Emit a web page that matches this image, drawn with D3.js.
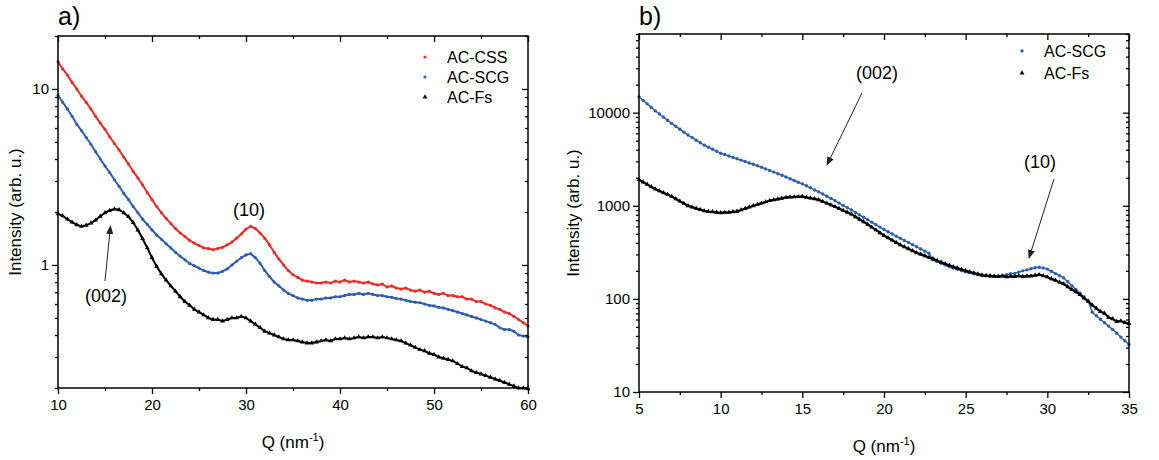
<!DOCTYPE html>
<html><head><meta charset="utf-8">
<script src="https://cdn.jsdelivr.net/npm/d3@7"></script>
<style>
body{margin:0;background:#fff}
svg{display:block}
text{font-family:"Liberation Sans",Arial,sans-serif;fill:#000}
</style>
</head><body>
<svg id="c" width="1159" height="460"></svg>
<script>
// ---------- Panel a data ----------
const qA = [10,10.5,11,11.5,12,12.5,13,13.5,14,14.5,
 15,15.5,16,16.5,17,17.5,18,18.5,19,19.5,
 20,20.5,21,21.5,22,22.5,23,23.5,24,24.5,
 25,25.5,26,26.5,27,27.5,28,28.5,29,29.5,
 30,30.5,31,31.5,32,32.5,33,33.5,34,34.5,
 35,35.5,36,36.5,37,37.5,38,38.5,39,39.5,
 40,40.5,41,41.5,42,42.5,43,43.5,44,44.5,
 45,45.5,46,46.5,47,47.5,48,48.5,49,49.5,
 50,50.5,51,51.5,52,52.5,53,53.5,54,54.5,
 55,55.5,56,56.5,57,57.5,58,58.5,59,59.5,
 60];
const cssA = [14.3,13.0,12.0,10.9,10.0,9.1,8.4,7.7,7.0,6.4,
 5.9,5.35,4.9,4.5,4.1,3.75,3.4,3.12,2.85,2.58,
 2.35,2.15,1.98,1.84,1.72,1.61,1.52,1.45,1.38,1.33,
 1.29,1.25,1.24,1.22,1.24,1.26,1.30,1.35,1.42,1.50,
 1.60,1.66,1.61,1.52,1.42,1.30,1.18,1.08,1.00,0.93,
 0.88,0.85,0.82,0.81,0.80,0.79,0.79,0.80,0.79,0.81,
 0.80,0.82,0.80,0.81,0.80,0.79,0.80,0.78,0.77,0.78,
 0.75,0.76,0.74,0.73,0.74,0.72,0.71,0.72,0.70,0.71,
 0.69,0.68,0.69,0.67,0.67,0.66,0.66,0.64,0.64,0.62,
 0.62,0.60,0.59,0.57,0.56,0.54,0.53,0.51,0.49,0.47,
 0.45];
const scgA = [9.2,8.4,7.7,7.0,6.3,5.8,5.3,4.85,4.4,4.0,
 3.65,3.35,3.05,2.8,2.55,2.35,2.15,1.98,1.82,1.70,
 1.58,1.48,1.40,1.32,1.25,1.18,1.12,1.07,1.02,0.99,
 0.96,0.93,0.91,0.90,0.90,0.92,0.95,1.00,1.05,1.10,
 1.14,1.16,1.10,1.02,0.93,0.86,0.80,0.76,0.72,0.69,
 0.67,0.65,0.64,0.63,0.63,0.64,0.64,0.65,0.65,0.66,
 0.66,0.67,0.68,0.68,0.69,0.68,0.69,0.68,0.67,0.67,
 0.66,0.655,0.645,0.64,0.63,0.62,0.615,0.61,0.60,0.59,
 0.585,0.575,0.57,0.56,0.55,0.54,0.53,0.52,0.51,0.50,
 0.49,0.48,0.47,0.46,0.44,0.43,0.43,0.42,0.40,0.395,
 0.39];
const fsA = [1.95,1.90,1.82,1.75,1.69,1.66,1.68,1.73,1.80,1.89,
 1.98,2.04,2.08,2.06,1.98,1.88,1.74,1.58,1.41,1.25,
 1.10,0.98,0.89,0.82,0.76,0.71,0.66,0.62,0.59,0.56,
 0.54,0.52,0.50,0.49,0.49,0.48,0.49,0.50,0.50,0.51,
 0.50,0.48,0.46,0.44,0.42,0.41,0.40,0.39,0.38,0.375,
 0.375,0.37,0.365,0.36,0.36,0.365,0.37,0.375,0.37,0.38,
 0.38,0.385,0.38,0.385,0.39,0.385,0.39,0.39,0.385,0.39,
 0.385,0.38,0.375,0.37,0.36,0.35,0.34,0.33,0.325,0.315,
 0.31,0.30,0.295,0.29,0.285,0.275,0.265,0.26,0.25,0.245,
 0.24,0.235,0.23,0.225,0.22,0.215,0.21,0.205,0.20,0.20,
 0.198];

// ---------- Panel b data ----------
const qB = [5,5.25,5.5,5.75,6,6.25,6.5,6.75,
 7,7.25,7.5,7.75,8,8.25,8.5,8.75,
 9,9.25,9.5,9.75,10,10.25,10.5,10.75,
 11,11.25,11.5,11.75,12,12.25,12.5,12.75,
 13,13.25,13.5,13.75,14,14.25,14.5,14.75,
 15,15.25,15.5,15.75,16,16.25,16.5,16.75,
 17,17.25,17.5,17.75,18,18.25,18.5,18.75,
 19,19.25,19.5,19.75,20,20.25,20.5,20.75,
 21,21.25,21.5,21.75,22,22.25,22.5,22.75,
 23,23.25,23.5,23.75,24,24.25,24.5,24.75,
 25,25.25,25.5,25.75,26,26.25,26.5,26.75,
 27,27.25,27.5,27.75,28,28.25,28.5,28.75,
 29,29.25,29.5,29.75,30,30.25,30.5,30.75,
 31,31.25,31.5,31.75,32,32.25,32.5,32.75,
 33,33.25,33.5,33.75,34,34.25,34.5,34.75,
 35];
const scgB = [14800,13550,12450,11400,10470,9680,8950,8300,
 7670,7140,6640,6180,5750,5400,5070,4760,
 4470,4260,4050,3850,3670,3550,3430,3310,
 3200,3090,2990,2880,2790,2690,2590,2490,
 2400,2300,2210,2130,2040,1950,1870,1790,
 1720,1640,1560,1480,1410,1340,1265,1200,
 1135,1070,1010,955,902,849,798,752,
 708,667,628,590,556,526,498,472,
 447,425,403,383,363,344,326,309,
 263,252,241,231,221,214,208,201,
 195,191,186,182,178,177,175,176,
 176,179,182,186,188,194,200,205,
 211,216,219,215,209,198,187,177,
 168,153,139,126,115,105,95,72,
 66,60.5,55.6,51,46.8,42.7,38.9,35.5,
 32.4];
const fsB = [1905,1800,1700,1600,1515,1445,1380,1320,
 1260,1190,1120,1060,1000,968,938,910,
 881,866,861,851,841,849,848,863,
 871,902,933,966,1000,1033,1067,1099,
 1135,1159,1180,1205,1230,1239,1245,1253,
 1259,1233,1208,1186,1161,1112,1067,1021,
 977,933,891,851,813,762,716,673,
 631,589,550,513,479,452,427,403,
 380,362,345,328,313,301,290,279,
 269,258,248,239,229,221,214,207,
 200,195,190,185,180,178,177,175,
 173,176,172,175,174,177,174,176,
 176,179,182,177,172,164,158,151,
 145,135,126,119,111,102,94,86,
 79,73,70,63,61,57,58,55.7,
 54.3];

// ---------- ticks / labels ----------
const xTicksA = [10,20,30,40,50,60];
const xMinorA = [15,25,35,45,55];
const yTicksA = [1,10];
const yMinorA = [0.2,0.3,0.4,0.5,0.6,0.7,0.8,0.9,2,3,4,5,6,7,8,9,20];
const xTicksB = [5,10,15,20,25,30,35];
const xMinorB = [7.5,12.5,17.5,22.5,27.5,32.5];
const yTicksB = [10,100,1000,10000];
const yMinorB = [20,30,40,50,60,70,80,90,200,300,400,500,600,700,800,900,
 2000,3000,4000,5000,6000,7000,8000,9000,20000,30000,40000,50000,60000,70000];
const seriesNamesA = ["AC-CSS","AC-SCG","AC-Fs"];
const seriesNamesB = ["AC-SCG","AC-Fs"];

const RED = "#ee2a26", BLUE = "#2c5eb0", BLACK = "#000";
const svg = d3.select("#c");
const defs = svg.append("defs");
defs.append("marker").attr("id","arr").attr("viewBox","0 0 10 10").attr("refX",9).attr("refY",5)
  .attr("markerWidth",9).attr("markerHeight",9).attr("orient","auto").attr("markerUnits","userSpaceOnUse")
  .append("path").attr("d","M0,1 L10,5 L0,9 Z").attr("fill","#222");

function drawPanel(o){
  const g = svg.append("g");
  const x = d3.scaleLinear().domain(o.xd).range([o.L,o.R]);
  const y = d3.scaleLog().domain(o.yd).range([o.B,o.T]);
  o.series.forEach(s=>{
    const pts = o.q.map((q,i)=>[q,s.v[i]]);
    g.append("path").attr("d",d3.line().x(d=>x(d[0])).y(d=>y(d[1]))(pts))
      .attr("fill","none").attr("stroke",s.color).attr("stroke-width",s.lw).attr("stroke-linejoin","round");
    g.append("g").selectAll("path").data(pts).join("path")
      .attr("transform",d=>`translate(${x(d[0])},${y(d[1])})`)
      .attr("d",d3.symbol(s.sym,s.size)()).attr("fill",s.color);
  });
  const ax = (sel)=>{ sel.select(".domain").remove(); sel.selectAll("line").attr("stroke","#000").attr("stroke-width",1.3);
    sel.selectAll("text").attr("font-size",15).attr("font-family","Liberation Sans, Arial, sans-serif").attr("fill","#000"); };
  g.append("g").attr("transform",`translate(0,${o.B})`).call(d3.axisBottom(x).tickValues(o.xt).tickSize(6).tickPadding(5).tickFormat(d3.format("d"))).call(ax);
  g.append("g").attr("transform",`translate(0,${o.B})`).call(d3.axisBottom(x).tickValues(o.xm).tickSize(3).tickFormat("")).call(ax);
  g.append("g").attr("transform",`translate(0,${o.T})`).call(d3.axisTop(x).tickValues(o.xt).tickSize(-6).tickFormat("")).call(ax);
  g.append("g").attr("transform",`translate(0,${o.T})`).call(d3.axisTop(x).tickValues(o.xm).tickSize(-3).tickFormat("")).call(ax);
  g.append("g").attr("transform",`translate(${o.L},0)`).call(d3.axisLeft(y).tickValues(o.yt).tickSize(6).tickPadding(3).tickFormat(d3.format("d"))).call(ax);
  g.append("g").attr("transform",`translate(${o.L},0)`).call(d3.axisLeft(y).tickValues(o.ym).tickSize(3).tickFormat("")).call(ax);
  g.append("g").attr("transform",`translate(${o.R},0)`).call(d3.axisRight(y).tickValues(o.yt).tickSize(-6).tickFormat("")).call(ax);
  g.append("g").attr("transform",`translate(${o.R},0)`).call(d3.axisRight(y).tickValues(o.ym).tickSize(-3).tickFormat("")).call(ax);
  g.append("rect").attr("x",o.L).attr("y",o.T).attr("width",o.R-o.L).attr("height",o.B-o.T)
    .attr("fill","none").attr("stroke","#000").attr("stroke-width",1.5);
  // axis titles
  const xt = g.append("text").attr("x",(o.L+o.R)/2).attr("y",o.B+60).attr("text-anchor","middle").attr("font-size",17);
  xt.append("tspan").text("Q (nm");
  xt.append("tspan").attr("font-size",11).attr("dy",-7).text("-1");
  xt.append("tspan").attr("dy",7).text(")");
  g.append("text").attr("transform",`translate(${o.yl},${(o.T+o.B)/2}) rotate(-90)`).attr("text-anchor","middle")
    .attr("font-size",17).text("Intensity (arb. u.)");
  g.append("text").attr("x",o.L).attr("y",25).attr("font-size",25).text(o.title);
  // legend
  o.series.forEach((s,i)=>{
    const ly = o.legY + i*o.legDy;
    g.append("path").attr("transform",`translate(${o.legX},${ly})`).attr("d",d3.symbol(s.sym,s.size)()).attr("fill",s.color);
    g.append("text").attr("x",o.legX+22).attr("y",ly).attr("dy","0.36em").attr("font-size",16).text(s.name);
  });
  // annotations
  o.notes.forEach(n=>{
    g.append("text").attr("x",n.tx).attr("y",n.ty).attr("dy","0.36em").attr("text-anchor","middle").attr("font-size",18).text(n.t);
    if(n.a) g.append("line").attr("x1",n.a[0]).attr("y1",n.a[1]).attr("x2",n.a[2]).attr("y2",n.a[3])
      .attr("stroke","#222").attr("stroke-width",1).attr("marker-end","url(#arr)");
  });
}

drawPanel({
  q:qA, xd:[10,60], yd:[0.2,20], L:58, R:528, T:36, B:388, yl:21, title:"a)",
  xt:xTicksA, xm:xMinorA, yt:yTicksA, ym:yMinorA,
  series:[
    {name:seriesNamesA[0], v:cssA, color:RED, lw:2, sym:d3.symbolCircle, size:8},
    {name:seriesNamesA[1], v:scgA, color:BLUE, lw:2, sym:d3.symbolCircle, size:8},
    {name:seriesNamesA[2], v:fsA, color:BLACK, lw:2, sym:d3.symbolTriangle, size:10}
  ],
  legX:425, legY:57, legDy:20,
  notes:[
    {t:"(10)", tx:249, ty:210, a:null},
    {t:"(002)", tx:106, ty:296, a:[105,281,110.5,226]}
  ]
});

drawPanel({
  q:qB, xd:[5,35], yd:[10,70000], L:639, R:1129, T:34, B:392, yl:579, title:"b)",
  xt:xTicksB, xm:xMinorB, yt:yTicksB, ym:yMinorB,
  series:[
    {name:seriesNamesB[0], v:scgB, color:BLUE, lw:1.4, sym:d3.symbolCircle, size:9},
    {name:seriesNamesB[1], v:fsB, color:BLACK, lw:2.2, sym:d3.symbolTriangle, size:10}
  ],
  legX:1022, legY:51, legDy:22,
  notes:[
    {t:"(002)", tx:877, ty:73, a:[862,93,827,165]},
    {t:"(10)", tx:1040, ty:162, a:[1054,179,1029,258]}
  ]
});
</script>
</body></html>
